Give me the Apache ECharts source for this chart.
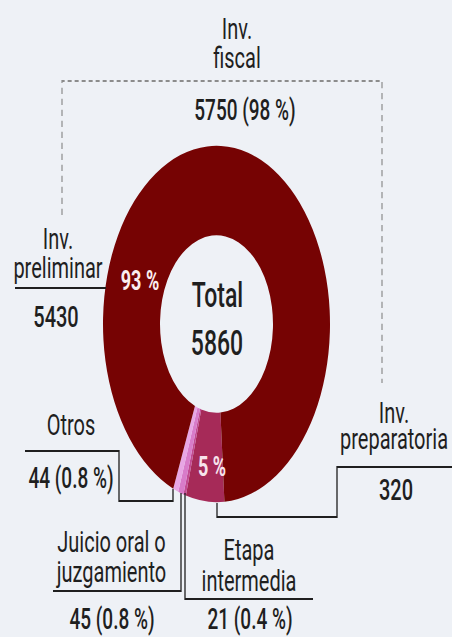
<!DOCTYPE html>
<html>
<head>
<meta charset="utf-8">
<script src="https://cdn.jsdelivr.net/npm/echarts@6/dist/echarts.min.js"></script>
<style>
html,body{margin:0;padding:0;background:#eef1f6;overflow:hidden;}
#wrap{width:452px;height:637px;overflow:hidden;position:relative;}
#c{width:452px;height:406px;transform:scaleY(1.57);transform-origin:0 0;}
</style>
</head>
<body>
<div id="wrap"><div id="c"></div></div>
<script>
// ---- data ----
const categories = ['Inv. preparatoria', 'Etapa intermedia', 'Juicio oral o juzgamiento', 'Otros', 'Inv. preliminar'];
const values = [320, 21, 45, 44, 5430];
const labelNames = ['Inv.\npreparatoria', 'Etapa\nintermedia', 'Juicio oral o\njuzgamiento', 'Otros', 'Inv.\npreliminar'];
const groupName = 'Inv.\nfiscal';
const groupMembers = [0, 4];
const totalName = 'Total';

// ---- styling / layout ----
const sliceColors = ['#a62a58', '#c24a92', '#d87cc9', '#e8a6e4', '#760303'];
const S = 1.57;          // vertical stretch of the whole picture
const TS = 0.96;         // text compensation
const Y = v => v / S;
const ink = '#1f1f1f';
const VW = 500;          // weight of value texts

const total = values.reduce((a, b) => a + b, 0);
const pct = v => v / total * 100;
const pctSmall = v => pct(v).toFixed(1) + ' %';
const pctInt = v => Math.round(pct(v)) + ' %';
const groupValue = groupMembers.reduce((a, i) => a + values[i], 0);

function txt(text, x, yImg, size, o) {
  o = o || {};
  return {
    type: 'text', x: x, y: Y(yImg), scaleY: TS, silent: true, z: 10,
    style: {
      text: text, fill: o.fill || ink, fontSize: size, fontFamily: 'Roboto',
      fontWeight: o.weight || 'normal', align: 'center', verticalAlign: 'middle',
      lineHeight: o.lh ? o.lh / (S * TS) : undefined
    }
  };
}
function line(pts, o) {
  o = o || {};
  return {
    type: 'polyline', silent: true, z: 5,
    shape: { points: pts.map(p => [p[0], Y(p[1])]) },
    style: { stroke: o.stroke || ink, lineWidth: o.lw || 1.3, lineDash: o.dash || null, fill: null }
  };
}

const graphics = [
  // group bracket
  line([[62, 215], [62, 81], [382, 81], [382, 383]], { stroke: '#8c8c8c', lw: 1.2, dash: [4, 3] }),
  txt(groupName, 237, 42.5, 20, { lh: 29 }),
  txt(groupValue + ' (' + pctInt(groupValue) + ')', 245, 110, 19, { weight: VW }),
  // Inv. preliminar
  line([[15, 288], [106, 288]]),
  txt(labelNames[4], 58, 253, 20, { lh: 29.5 }),
  txt(String(values[4]), 56, 316.5, 20, { weight: VW }),
  txt(pctInt(values[4]), 140, 281, 18, { weight: 'bold', fill: '#fbeef0' }),
  // centre
  txt(totalName, 217.5, 295, 23, { weight: VW }),
  txt(String(total), 217, 343.5, 23, { weight: VW }),
  // Inv. preparatoria
  line([[217, 503], [217, 517], [337, 517], [337, 467], [452, 467]]),
  txt(labelNames[0], 394, 425, 20, { lh: 26 }),
  txt(String(values[0]), 396, 489, 20, { weight: VW }),
  txt(pctInt(values[0]), 212, 467.5, 18, { weight: 'bold', fill: '#f7e4ec' }),
  // Otros
  line([[25, 451], [119, 451], [119, 501], [173, 501], [173, 489]]),
  txt(labelNames[3], 71, 424, 20),
  txt(values[3] + ' (' + pctSmall(values[3]) + ')', 71, 478, 19, { weight: VW }),
  // Juicio oral
  line([[53, 591], [181, 591], [181, 493]]),
  txt(labelNames[2], 111.5, 556, 20, { lh: 30 }),
  txt(values[2] + ' (' + pctSmall(values[2]) + ')', 112, 619, 19, { weight: VW }),
  // Etapa intermedia
  line([[185, 493], [185, 599], [313, 599]]),
  txt(labelNames[1], 249, 564.5, 20, { lh: 31 }),
  txt(values[1] + ' (' + pctSmall(values[1]) + ')', 250, 619, 19, { weight: VW })
];

const chart = echarts.init(document.getElementById('c'), null, { renderer: 'svg', width: 452, height: 406 });
chart.setOption({
  backgroundColor: '#eef1f6',
  animation: false,
  series: [{
    type: 'pie',
    silent: true,
    center: [216.5, Y(324)],
    radius: [56.5, 113.5],
    startAngle: -86,
    clockwise: true,
    label: { show: false },
    labelLine: { show: false },
    emphasis: { disabled: true },
    data: categories.map((n, i) => ({ name: n, value: values[i], itemStyle: { color: sliceColors[i] } }))
  }],
  graphic: graphics
});
</script>
</body>
</html>
